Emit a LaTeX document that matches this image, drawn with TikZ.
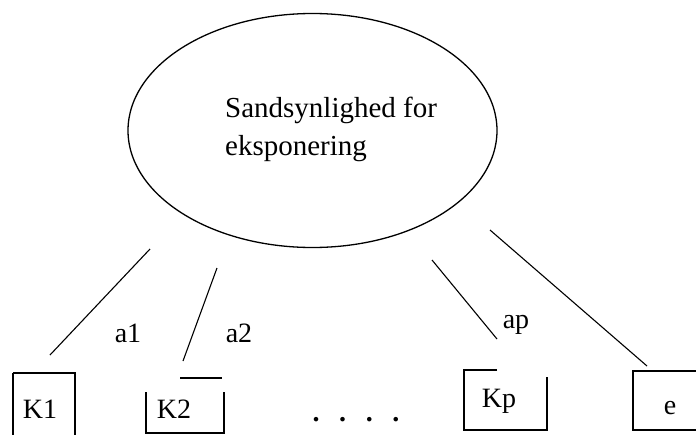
\documentclass[tikz,border=0pt]{standalone}
\usepackage{fontspec}
\setmainfont{Liberation Serif}
\usetikzlibrary{shapes.geometric}
\begin{document}
\begin{tikzpicture}[x=1pt,y=-1pt,
  line/.style={draw=black,line width=1.1pt},
  lbl/.style={inner sep=0pt,anchor=base,font=\fontsize{28}{38}\selectfont}]
\useasboundingbox[fill=white] (0,0) rectangle (696,434);
% ellipse
\node[draw=black,line width=1.3pt,ellipse,minimum width=369pt,minimum height=234pt,inner sep=0pt] (ell) at (312.5,130.5) {};
\node[inner sep=0pt,anchor=west,align=left,font=\fontsize{29}{38}\selectfont] (txt) at (225,129) {Sandsynlighed for\\eksponering};
% boxes
\draw[line] (13,373) -- (75,373) -- (75,440) (13,373) -- (13,440);
\draw[line] (180,378) -- (222,378) (146,392) -- (146,433) -- (224,433) -- (224,392);
\draw[line] (497,370) -- (464,370) -- (464,430) -- (547,430) -- (547,377);
\draw[line] (700,371) -- (633,371) -- (633,430) -- (700,430);
% labels
\node[lbl] (k1) at (40,418) {K1};
\node[lbl] (k2) at (174,418) {K2};
\node[lbl] (kp) at (499,407) {Kp};
\node[lbl] (e) at (670,414) {e};
\node[lbl] (a1) at (128,342) {a1};
\node[lbl] (a2) at (239,342) {a2};
\node[lbl] (ap) at (516,328) {ap};
\node[lbl,font=\fontsize{28}{38}\selectfont\bfseries] (dots) at (356,421) {.\hspace{19.6pt}.\hspace{19.6pt}.\hspace{19.6pt}.};
% connectors
\coordinate (s1) at (150,249); \coordinate (t1) at (50,355);
\coordinate (s2) at (217,268); \coordinate (t2) at (183,361);
\coordinate (sp) at (432,260); \coordinate (tp) at (497,339);
\coordinate (se) at (490,230); \coordinate (te) at (647,366);
\draw[line] (s1) -- (t1);
\draw[line] (s2) -- (t2);
\draw[line] (sp) -- (tp);
\draw[line] (se) -- (te);
\end{tikzpicture}
\end{document}
